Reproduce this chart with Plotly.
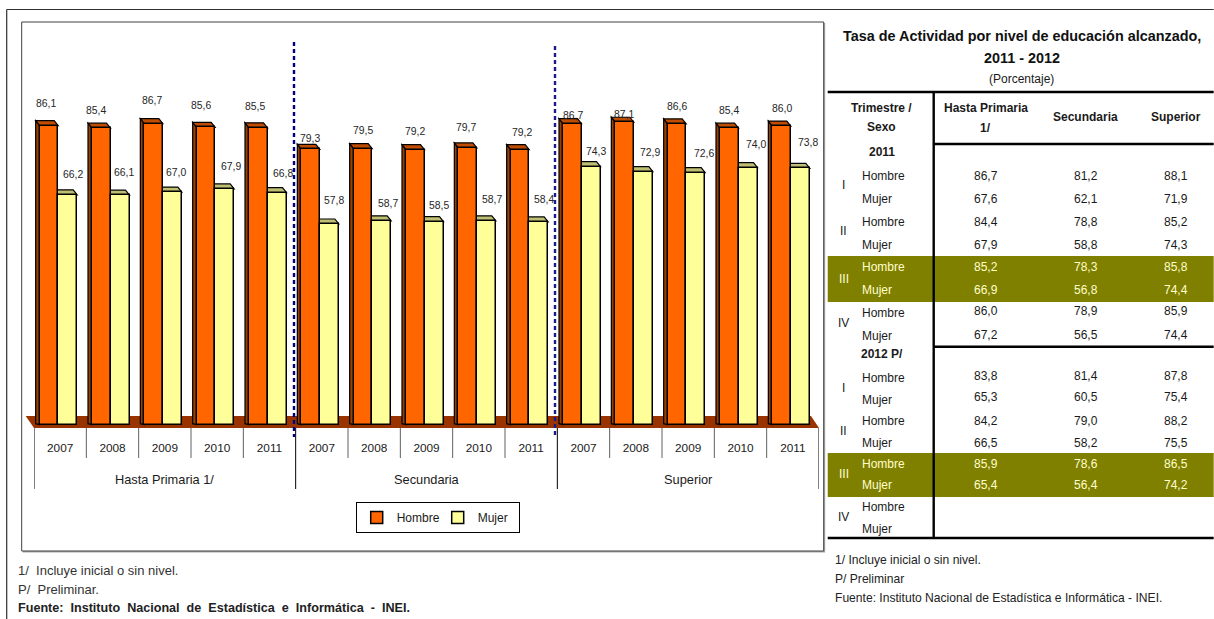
import plotly.graph_objects as go

# ---------- data ----------
years = ["2007", "2008", "2009", "2010", "2011"]
groups = ["Hasta Primaria 1/", "Secundaria", "Superior"]
hombre = [86.1, 85.4, 86.7, 85.6, 85.5, 79.3, 79.5, 79.2, 79.7, 79.2, 86.7, 87.1, 86.6, 85.4, 86.0]
mujer = [66.2, 66.1, 67.0, 67.9, 66.8, 57.8, 58.7, 58.5, 58.7, 58.4, 74.3, 72.9, 72.6, 74.0, 73.8]

table_title = ["Tasa de Actividad por nivel de educación alcanzado,", "2011 - 2012"]
table_unit = "(Porcentaje)"
col_sup = [86.7, 67.6, 84.4, 67.9, 85.2, 66.9, 86.0, 67.2, 83.8, 65.3, 84.2, 66.5, 85.9, 65.4]
col_sec = [81.2, 62.1, 78.8, 58.8, 78.3, 56.8, 78.9, 56.5, 81.4, 60.5, 79.0, 58.2, 78.6, 56.4]
col_high = [88.1, 71.9, 85.2, 74.3, 85.8, 74.4, 85.9, 74.4, 87.8, 75.4, 88.2, 75.5, 86.5, 74.2]
sexes = ["Hombre", "Mujer"]
quarters = ["I", "II", "III", "IV"]
notes_left = ["1/  Incluye inicial o sin nivel.", "P/  Preliminar."]
source_left = "Fuente:  Instituto  Nacional  de  Estadística  e  Informática  -  INEI."
notes_right = ["1/ Incluye inicial o sin nivel.", "P/ Preliminar", "Fuente: Instituto Nacional de Estadística e Informática - INEI."]

# ---------- layout constants ----------
W, H = 1214, 619
L, R, T, B = 34.3, 819.3, 30, 428
CAT = (R - L) / 15
SCALE = (424 - 125) / 86.1
ZERO_GAP = 3.3
FONT = "Liberation Sans"
ORANGE, YELLOW = "#FF6600", "#FFFF99"
OLIVE = "#808000"
PALE = "#FFFFCC"
DX, DY = 4 / CAT, 5 / SCALE
H_OFF, H_W = -20.5 / CAT, 18.5 / CAT
M_OFF, M_W = -2 / CAT, 19 / CAT

# label nudges (px) relative to each bar's top centre
h_dx = [-3, -5.5, -2, -5, -3.5, -1, 0, -0.5, -2, 2, 0.5, -1, 0, -0.5, 0]
h_dy = [23, 18.4, 23.9, 22.7, 22.1, 11.6, 18.9, 18.9, 21.2, 17.9, 8.9, 8.5, 18.2, 18.4, 18.3]
m_dx = [5, 3.7, 3.4, 6, 5.7, 4.4, 6, 4.7, 5.4, 5, 4.7, 6.4, 8.1, 7.7, 7.4]
m_dy = [21.1, 23.4, 20.3, 23.2, 20, 24.3, 18.1, 16.8, 22.1, 23.2, 16, 19.8, 19.9, 24, 26.7]


def px(x):
    return (x - L) / (R - L)


def py(y):
    return (B - y) / (B - T)


def fmt(v):
    return f"{v:.1f}".replace(".", ",")


xs = [i + 0.5 for i in range(15)]
cat_labels = years * 3

fig = go.Figure()
fig.add_bar(name="Hombre", x=xs, y=hombre, offset=H_OFF, width=H_W,
            marker=dict(color=ORANGE, line=dict(color="#000000", width=1.5)))
fig.add_bar(name="Mujer", x=xs, y=mujer, offset=M_OFF, width=M_W,
            marker=dict(color=YELLOW, line=dict(color="#000000", width=1.5)))

shapes = []
anns = []


def line_px(x0, y0, x1, y1, color="#000000", width=1, dash=None, layer="above"):
    d = dict(color=color, width=width)
    if dash:
        d["dash"] = dash
    shapes.append(dict(type="line", xref="paper", yref="paper", x0=px(x0), x1=px(x1),
                       y0=py(y0), y1=py(y1), line=d, layer=layer))


def rect_px(x0, y0, x1, y1, fill, line=None, width=1, layer="below"):
    shapes.append(dict(type="rect", xref="paper", yref="paper", x0=px(x0), x1=px(x1),
                       y0=py(y0), y1=py(y1), fillcolor=fill, layer=layer,
                       line=dict(color=line or fill, width=width if line else 0)))


def text_px(x, y, s, size=12, color="#1a1a1a", align="center", bold=False):
    anns.append(dict(xref="paper", yref="paper", x=px(x), y=py(y), text=f"<b>{s}</b>" if bold else s,
                     showarrow=False, xanchor=align, yanchor="middle", align=align,
                     font=dict(family=FONT, size=size, color=color), borderpad=0))


# frames
rect_px(23, 23, 825.5, 552.5, "#a8a8a8")
rect_px(22, 22, 824, 551, "#ffffff", "#404040", 1)
line_px(7, 9.5, 1214, 9.5, "#303030", 1.2)
line_px(7, 9.5, 7, 619, "#303030", 1.2)

# floor
shapes.append(dict(type="path", xref="paper", yref="paper", layer="below",
                   path=f"M{px(26)},{py(416)} L{px(811.3)},{py(416)} L{px(819.3)},{py(428)} L{px(34.3)},{py(428)} Z",
                   fillcolor="#993300", line=dict(width=0)))

# 3-D faces and data labels, all derived from the values
for i, (h, m) in enumerate(zip(hombre, mujer)):
    x = xs[i]
    a, b = x + H_OFF, x + H_OFF + H_W
    shapes.append(dict(type="path", xref="x", yref="y", layer="below", fillcolor="#994000",
                       line=dict(color="#000000", width=1.2),
                       path=f"M{a},0 L{a-DX},{DY*0.2} L{a-DX},{h+DY} L{a},{h} Z"))
    shapes.append(dict(type="path", xref="x", yref="y", layer="below", fillcolor="#BF4C00",
                       line=dict(color="#000000", width=1.2),
                       path=f"M{a},{h} L{a-DX},{h+DY} L{b-DX},{h+DY} L{b},{h} Z"))
    a2, b2 = x + M_OFF, x + M_OFF + M_W
    shapes.append(dict(type="path", xref="x", yref="y", layer="below", fillcolor="#BFBF73",
                       line=dict(color="#000000", width=1.2),
                       path=f"M{a2},{m} L{a2-DX},{m+DY} L{b2-DX},{m+DY} L{b2},{m} Z"))
    anns.append(dict(xref="x", yref="y", x=x + H_OFF + H_W / 2, y=h, xshift=h_dx[i], yshift=h_dy[i] - 0.5,
                     text=fmt(h), showarrow=False, yanchor="middle", borderpad=0,
                     font=dict(family=FONT, size=10.4, color="#262626")))
    anns.append(dict(xref="x", yref="y", x=x + M_OFF + M_W / 2, y=m, xshift=m_dx[i], yshift=m_dy[i] - 0.5,
                     text=fmt(m), showarrow=False, yanchor="middle", borderpad=0,
                     font=dict(family=FONT, size=10.4, color="#262626")))

# category separators and group labels
for i in range(16):
    major = i % 5 == 0
    shapes.append(dict(type="line", xref="x", yref="paper", x0=i, x1=i, y0=py(428), y1=py(489 if major else 458),
                       line=dict(color="#000000" if major else "#606060", width=1)))
for g, name in enumerate(groups):
    anns.append(dict(xref="x", yref="paper", x=5 * g + 2.5, y=py(479.5), text=name, showarrow=False,
                     yanchor="middle", font=dict(family=FONT, size=12.8, color="#1a1a1a")))

# dashed dividers
line_px(294.3, 42, 294.3, 437, "#000080", 2.4, "4px,3px")
line_px(555.3, 46, 555.3, 437, "#1a1a8c", 2.4, "4px,3px")

# ---------- right-hand table ----------
rect_px(828, 256, 1214, 302, OLIVE)
rect_px(828, 453, 1214, 497, OLIVE)
text_px(1022, 36, table_title[0], 14.4, "#111111", bold=True)
text_px(1022, 58, table_title[1], 14.4, "#111111", bold=True)
text_px(1022, 79, table_unit, 12)
line_px(828, 92, 1214, 92, "#000000", 2.4)
line_px(934, 92, 934, 538, "#000000", 2.4)
line_px(934, 144, 1214, 144, "#000000", 2.4)
line_px(934, 346.7, 1214, 346.7, "#000000", 2.4)
line_px(828, 538, 1214, 538, "#000000", 2.4)

text_px(882, 108, "Trimestre /", bold=True)
text_px(882, 127, "Sexo", bold=True)
text_px(986, 108, "Hasta Primaria", bold=True)
text_px(986, 128, "1/", bold=True)
text_px(1086, 117, "Secundaria", bold=True)
text_px(1176, 117, "Superior", bold=True)
text_px(882, 152, "2011", bold=True)
text_px(882, 354, "2012 P/", bold=True)

label_y = [176, 199, 222, 245, 267, 290, 313, 336, 378, 400, 421, 443, 464, 485, 507, 529]
value_y = [176, 199, 222, 245, 267, 290, 311, 335, 376, 397, 421, 443, 464, 485]
roman_y = [185, 231, 279, 323, 388, 431, 474, 517]
BANDS = (4, 5, 12, 13)

for r, y in enumerate(label_y):
    text_px(861, y, sexes[r % 2], color=PALE if r in BANDS else "#1a1a1a", align="left")
for r, y in enumerate(value_y):
    c = PALE if r in BANDS else "#1a1a1a"
    text_px(986, y, fmt(col_sup[r]), color=c)
    text_px(1086, y, fmt(col_sec[r]), color=c)
    text_px(1176, y, fmt(col_high[r]), color=c)
for r, y in enumerate(roman_y):
    text_px(844, y, quarters[r % 4], color=PALE if r % 4 == 2 else "#1a1a1a")

# ---------- footnotes ----------
text_px(17, 570, notes_left[0], 13, "#333333", "left")
text_px(17, 589, notes_left[1], 13, "#333333", "left")
text_px(17, 608, source_left, 12.6, "#222222", "left", bold=True)
for y, s in zip((560, 579, 598), notes_right):
    text_px(834, y, s, 12.1, "#222222", "left")

fig.update_layout(
    width=W, height=H, autosize=False,
    margin=dict(l=L, r=W - R, t=T, b=H - B, pad=0),
    paper_bgcolor="#ffffff", plot_bgcolor="rgba(0,0,0,0)",
    barmode="overlay", bargap=0,
    font=dict(family=FONT, size=12, color="#1a1a1a"),
    xaxis=dict(range=[0, 15], tickmode="array", tickvals=xs, ticktext=cat_labels, ticks="outside",
               ticklen=9, tickcolor="rgba(0,0,0,0)", showgrid=False, zeroline=False, showline=False,
               tickfont=dict(family=FONT, size=11.8, color="#1a1a1a"), fixedrange=True),
    yaxis=dict(range=[-ZERO_GAP / SCALE, (B - T - ZERO_GAP) / SCALE], visible=False, fixedrange=True),
    legend=dict(orientation="h", x=px(356), y=py(502), xanchor="left", yanchor="top",
                bordercolor="#000000", borderwidth=1, bgcolor="#ffffff",
                entrywidth=36, entrywidthmode="pixels", font=dict(family=FONT, size=12, color="#1a1a1a")),
    shapes=shapes, annotations=anns, showlegend=True,
)

fig.write_html("out.html", config=dict(displayModeBar=False),
               post_script="document.body.style.margin='0';document.body.style.overflow='hidden';")
